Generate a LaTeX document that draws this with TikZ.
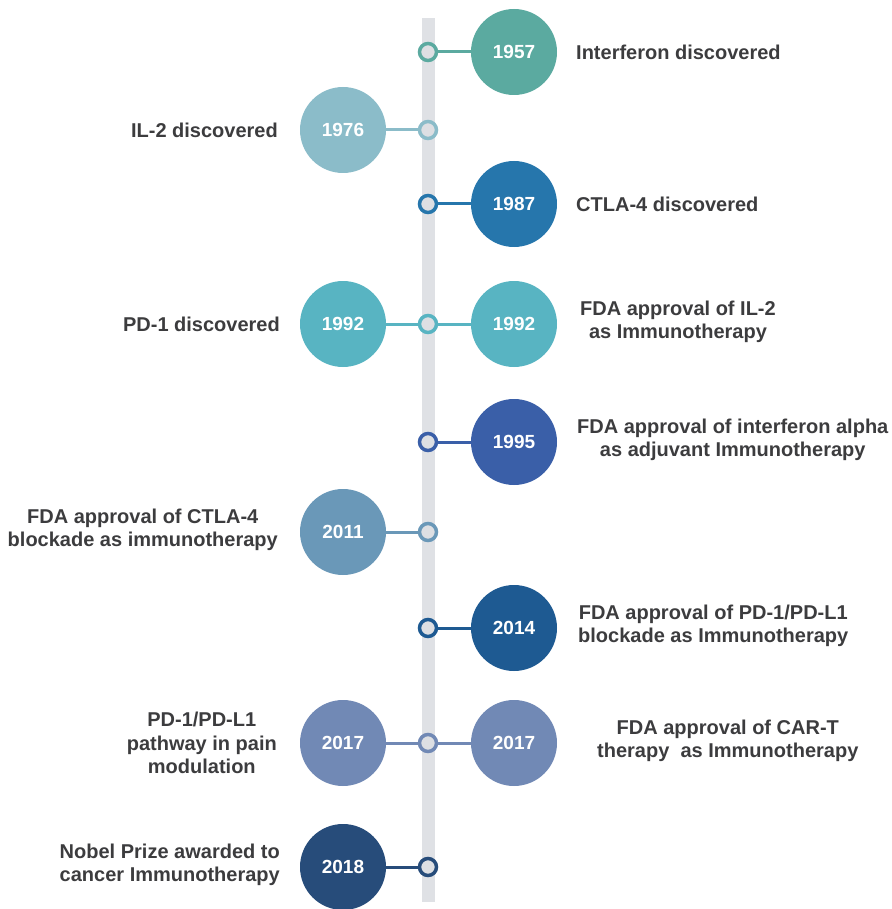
\documentclass[tikz,border=0pt]{standalone}
\usepackage{fontspec}
\setmainfont{Liberation Sans}
\definecolor{cA}{RGB}{91,170,160}
\definecolor{cB}{RGB}{139,188,201}
\definecolor{cC}{RGB}{38,118,172}
\definecolor{cD}{RGB}{88,180,194}
\definecolor{cE}{RGB}{58,95,168}
\definecolor{cF}{RGB}{106,152,184}
\definecolor{cG}{RGB}{30,90,146}
\definecolor{cH}{RGB}{113,137,181}
\definecolor{cI}{RGB}{39,76,122}
\definecolor{txt}{RGB}{60,60,62}
\definecolor{barc}{RGB}{223,225,229}
\definecolor{dotfill}{RGB}{221,223,227}
\tikzset{
  big/.style={circle,fill=#1,minimum size=86pt,inner sep=0pt,text=white,font=\bfseries\fontsize{19}{22}\selectfont},
  dot/.style={circle,draw=#1,fill=dotfill,line width=3.5pt,minimum size=17pt,inner sep=0pt},
  link/.style={draw=#1,line width=3pt},
  lab/.style={text=txt,font=\bfseries\fontsize{20}{23.5}\selectfont,inner sep=0pt,align=center},
}
\begin{document}
\begin{tikzpicture}[x=1pt,y=-1pt]
\useasboundingbox (0,0) rectangle (891,909);
\fill[barc] (422,18) rectangle (435,902);
% 1957
\node[big=cA] (b1) at (514,52) {1957};
\node[dot=cA] (d1) at (428,52) {};
\draw[link=cA] (d1) -- (b1);
\node[lab,anchor=west] (t1) at (576,52) {Interferon discovered};
% 1976
\node[big=cB] (b2) at (343,130) {1976};
\node[dot=cB] (d2) at (428,130) {};
\draw[link=cB] (b2) -- (d2);
\node[lab,anchor=east] (t2) at (278,130) {IL-2 discovered};
% 1987
\node[big=cC] (b3) at (514,204) {1987};
\node[dot=cC] (d3) at (428,204) {};
\draw[link=cC] (d3) -- (b3);
\node[lab,anchor=west] (t3) at (576,204) {CTLA-4 discovered};
% 1992
\node[big=cD] (b4) at (343,324) {1992};
\node[big=cD] (b5) at (514,324) {1992};
\node[dot=cD] (d4) at (428,324) {};
\draw[link=cD] (b4) -- (d4);
\draw[link=cD] (d4) -- (b5);
\node[lab,anchor=east] (t4) at (280,324) {PD-1 discovered};
\node[lab,anchor=west] (t5) at (580,322) {FDA approval of IL-2\\as Immunotherapy};
% 1995
\node[big=cE] (b6) at (514,442) {1995};
\node[dot=cE] (d6) at (428,442) {};
\draw[link=cE] (d6) -- (b6);
\node[lab,anchor=west] (t6) at (577,440) {FDA approval of interferon alpha\\as adjuvant Immunotherapy};
% 2011
\node[big=cF] (b7) at (343,532) {2011};
\node[dot=cF] (d7) at (428,532) {};
\draw[link=cF] (b7) -- (d7);
\node[lab,anchor=east] (t7) at (278,530) {FDA approval of CTLA-4\\blockade as immunotherapy};
% 2014
\node[big=cG] (b8) at (514,628) {2014};
\node[dot=cG] (d8) at (428,628) {};
\draw[link=cG] (d8) -- (b8);
\node[lab,anchor=west] (t8) at (578,626) {FDA approval of PD-1/PD-L1\\blockade as Immunotherapy};
% 2017
\node[big=cH] (b9) at (343,743) {2017};
\node[big=cH] (b10) at (514,743) {2017};
\node[dot=cH] (d9) at (428,743) {};
\draw[link=cH] (b9) -- (d9);
\draw[link=cH] (d9) -- (b10);
\node[lab,anchor=east] (t9) at (277,743) {PD-1/PD-L1\\pathway in pain\\modulation};
\node[lab,anchor=west] (t10) at (597,741) {FDA approval of CAR-T\\therapy\ \ as Immunotherapy};
% 2018
\node[big=cI] (b11) at (343,867) {2018};
\node[dot=cI] (d11) at (428,867) {};
\draw[link=cI] (b11) -- (d11);
\node[lab,anchor=east] (t11) at (280,865) {Nobel Prize awarded to\\cancer Immunotherapy};
\end{tikzpicture}
\end{document}
